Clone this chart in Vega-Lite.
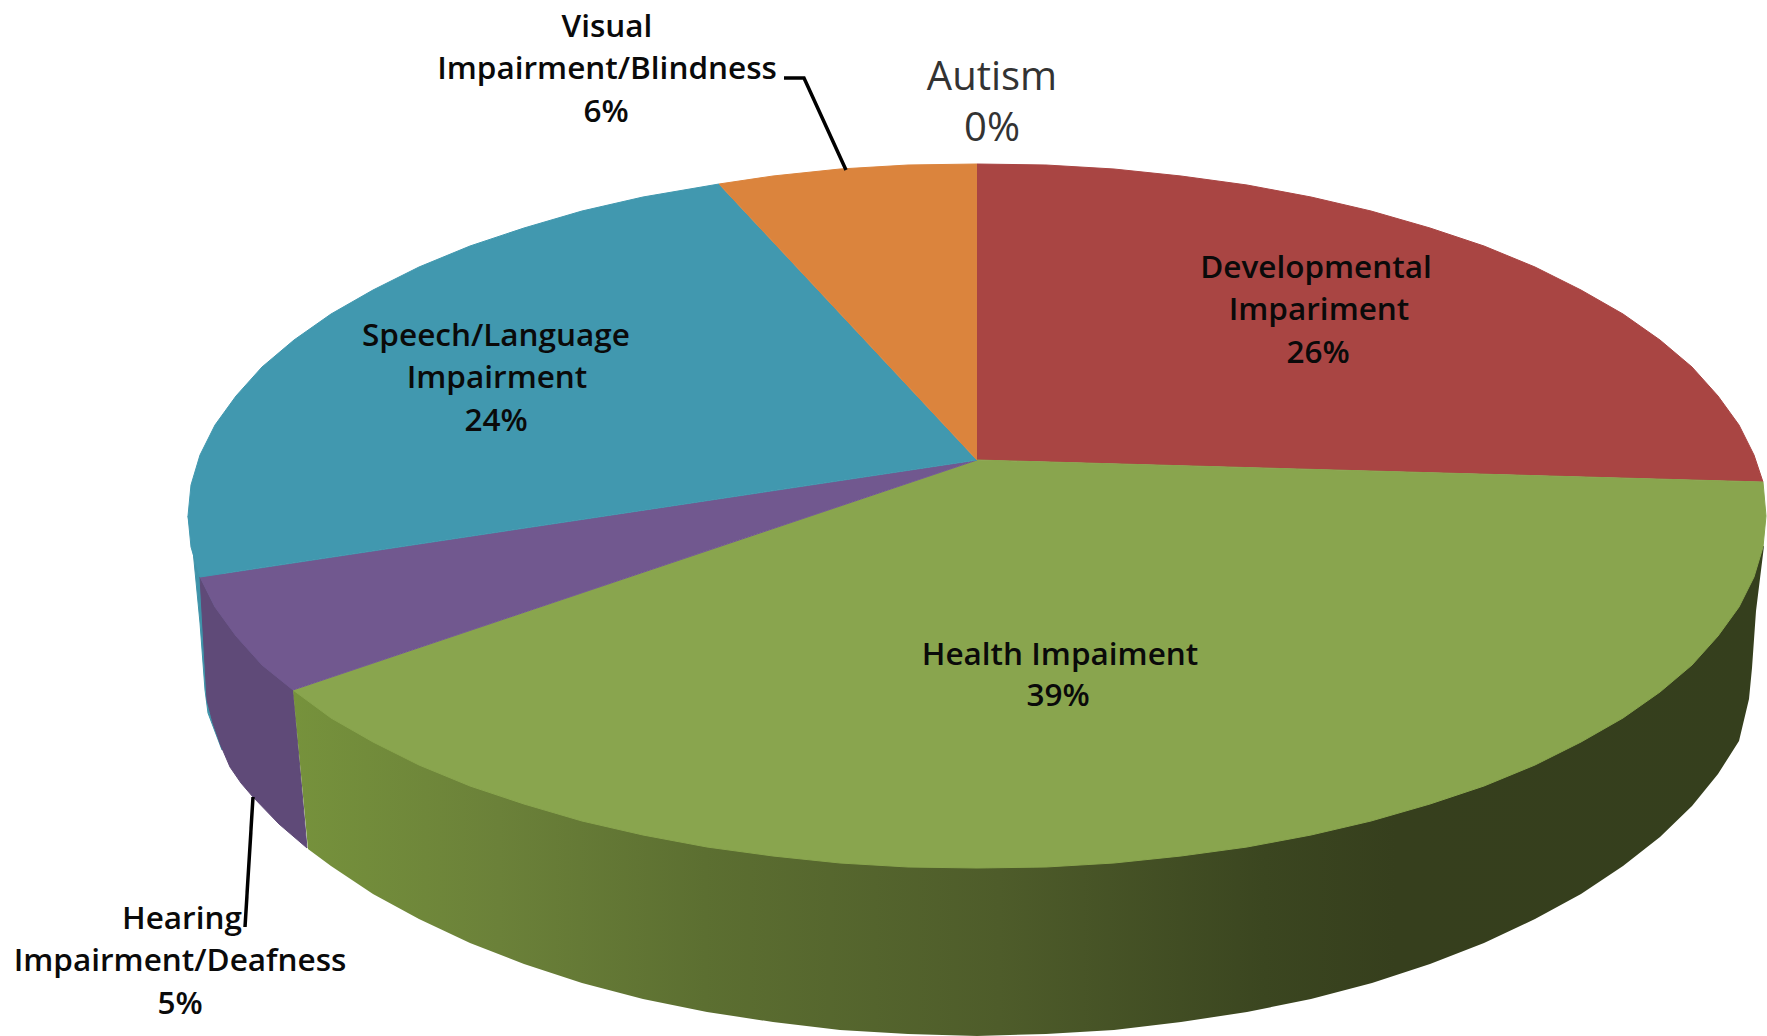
{
"$schema":"https://vega.github.io/schema/vega-lite/v6.json",
"width":1767,"height":1036,"padding":0,"autosize":"none",
"background":"white",
"view":{"stroke":null},
"config":{"axis":{"domain":false,"grid":false,"ticks":false,"labels":false,"title":null}},
"datasets":{
"sides":[
{"part":"Speech side","i":1,"x":188,"y":516},{"part":"Speech side","i":2,"x":192,"y":540},{"part":"Speech side","i":3,"x":200,"y":623},{"part":"Speech side","i":4,"x":205,"y":690},{"part":"Speech side","i":5,"x":208,"y":713},{"part":"Speech side","i":6,"x":222,"y":750},{"part":"Speech side","i":7,"x":293,"y":690},
{"part":"Hearing side","i":1,"x":200,"y":577},{"part":"Hearing side","i":2,"x":207,"y":700},{"part":"Hearing side","i":3,"x":213,"y":723},{"part":"Hearing side","i":4,"x":221,"y":746},{"part":"Hearing side","i":5,"x":230,"y":767},{"part":"Hearing side","i":6,"x":241,"y":783},{"part":"Hearing side","i":7,"x":253,"y":797},{"part":"Hearing side","i":8,"x":279,"y":824},{"part":"Hearing side","i":9,"x":307,"y":848},{"part":"Hearing side","i":10,"x":293,"y":690},{"part":"Hearing side","i":11,"x":262,"y":665},{"part":"Hearing side","i":12,"x":236,"y":636},{"part":"Hearing side","i":13,"x":215,"y":607}
],
"greenSide":[
{"i":1,"x":293,"y":690},{"i":2,"x":308,"y":849},{"i":3,"x":331,"y":866},{"i":4,"x":373,"y":894},{"i":5,"x":419,"y":919},{"i":6,"x":470,"y":943},{"i":7,"x":524,"y":964},{"i":8,"x":582,"y":983},{"i":9,"x":643,"y":999},{"i":10,"x":707,"y":1012},{"i":11,"x":773,"y":1022},{"i":12,"x":840,"y":1030},{"i":13,"x":908,"y":1034},{"i":14,"x":977,"y":1036},{"i":15,"x":1046,"y":1034},{"i":16,"x":1114,"y":1030},{"i":17,"x":1181,"y":1022},{"i":18,"x":1247,"y":1012},{"i":19,"x":1311,"y":999},{"i":20,"x":1372,"y":983},{"i":21,"x":1430,"y":964},{"i":22,"x":1484,"y":943},{"i":23,"x":1535,"y":919},{"i":24,"x":1581,"y":894},{"i":25,"x":1623,"y":866},{"i":26,"x":1660,"y":837},{"i":27,"x":1692,"y":806},{"i":28,"x":1718,"y":774},{"i":29,"x":1739,"y":741},{"i":30,"x":1749,"y":699},{"i":31,"x":1752,"y":668},{"i":32,"x":1756,"y":611},{"i":33,"x":1764,"y":546}
],
"faces":[
{"part":"Developmental","i":0,"x":977,"y":460},{"part":"Developmental","i":1,"x":977,"y":164},{"part":"Developmental","i":2,"x":1046,"y":165},{"part":"Developmental","i":3,"x":1114,"y":169},{"part":"Developmental","i":4,"x":1181,"y":176},{"part":"Developmental","i":5,"x":1247,"y":185},{"part":"Developmental","i":6,"x":1311,"y":197},{"part":"Developmental","i":7,"x":1371,"y":211},{"part":"Developmental","i":8,"x":1430,"y":228},{"part":"Developmental","i":9,"x":1484,"y":246},{"part":"Developmental","i":10,"x":1535,"y":267},{"part":"Developmental","i":11,"x":1581,"y":290},{"part":"Developmental","i":12,"x":1623,"y":314},{"part":"Developmental","i":13,"x":1660,"y":340},{"part":"Developmental","i":14,"x":1692,"y":367},{"part":"Developmental","i":15,"x":1718,"y":396},{"part":"Developmental","i":16,"x":1739,"y":425},{"part":"Developmental","i":17,"x":1754,"y":455},{"part":"Developmental","i":18,"x":1763,"y":482},
{"part":"Health","i":0,"x":977,"y":460},{"part":"Health","i":1,"x":1763,"y":482},{"part":"Health","i":2,"x":1766,"y":516},{"part":"Health","i":3,"x":1763,"y":547},{"part":"Health","i":4,"x":1754,"y":577},{"part":"Health","i":5,"x":1739,"y":607},{"part":"Health","i":6,"x":1718,"y":636},{"part":"Health","i":7,"x":1692,"y":665},{"part":"Health","i":8,"x":1660,"y":692},{"part":"Health","i":9,"x":1623,"y":718},{"part":"Health","i":10,"x":1581,"y":742},{"part":"Health","i":11,"x":1535,"y":765},{"part":"Health","i":12,"x":1484,"y":786},{"part":"Health","i":13,"x":1430,"y":804},{"part":"Health","i":14,"x":1371,"y":821},{"part":"Health","i":15,"x":1311,"y":835},{"part":"Health","i":16,"x":1247,"y":847},{"part":"Health","i":17,"x":1181,"y":856},{"part":"Health","i":18,"x":1114,"y":863},{"part":"Health","i":19,"x":1046,"y":867},{"part":"Health","i":20,"x":977,"y":868},{"part":"Health","i":21,"x":908,"y":867},{"part":"Health","i":22,"x":840,"y":863},{"part":"Health","i":23,"x":773,"y":856},{"part":"Health","i":24,"x":707,"y":847},{"part":"Health","i":25,"x":643,"y":835},{"part":"Health","i":26,"x":582,"y":821},{"part":"Health","i":27,"x":524,"y":804},{"part":"Health","i":28,"x":470,"y":786},{"part":"Health","i":29,"x":419,"y":765},{"part":"Health","i":30,"x":373,"y":742},{"part":"Health","i":31,"x":331,"y":718},{"part":"Health","i":32,"x":293,"y":690},
{"part":"Hearing","i":0,"x":977,"y":460},{"part":"Hearing","i":1,"x":293,"y":690},{"part":"Hearing","i":2,"x":262,"y":665},{"part":"Hearing","i":3,"x":236,"y":636},{"part":"Hearing","i":4,"x":215,"y":607},{"part":"Hearing","i":5,"x":200,"y":577},
{"part":"Speech","i":0,"x":977,"y":460},{"part":"Speech","i":1,"x":200,"y":577},{"part":"Speech","i":2,"x":191,"y":547},{"part":"Speech","i":3,"x":188,"y":516},{"part":"Speech","i":4,"x":191,"y":485},{"part":"Speech","i":5,"x":200,"y":455},{"part":"Speech","i":6,"x":215,"y":425},{"part":"Speech","i":7,"x":236,"y":396},{"part":"Speech","i":8,"x":262,"y":367},{"part":"Speech","i":9,"x":294,"y":340},{"part":"Speech","i":10,"x":331,"y":314},{"part":"Speech","i":11,"x":373,"y":290},{"part":"Speech","i":12,"x":419,"y":267},{"part":"Speech","i":13,"x":470,"y":246},{"part":"Speech","i":14,"x":524,"y":228},{"part":"Speech","i":15,"x":582,"y":211},{"part":"Speech","i":16,"x":643,"y":197},{"part":"Speech","i":17,"x":719,"y":184},
{"part":"Visual","i":0,"x":977,"y":460},{"part":"Visual","i":1,"x":719,"y":184},{"part":"Visual","i":2,"x":773,"y":176},{"part":"Visual","i":3,"x":840,"y":169},{"part":"Visual","i":4,"x":908,"y":165},{"part":"Visual","i":5,"x":977,"y":164}
],
"leaders":[
{"part":"Visual","i":1,"x":784,"y":78},{"part":"Visual","i":2,"x":804,"y":78},{"part":"Visual","i":3,"x":846,"y":170},
{"part":"Hearing","i":1,"x":253,"y":797},{"part":"Hearing","i":2,"x":245,"y":927}
],
"labels":[
{"t":"Visual","x":607,"y":26},{"t":"Impairment/Blindness","x":607,"y":68},{"t":"6%","x":606,"y":111},
{"t":"Developmental","x":1316,"y":267},{"t":"Impariment","x":1319,"y":309},{"t":"26%","x":1318,"y":352},
{"t":"Speech/Language","x":496,"y":335},{"t":"Impairment","x":497,"y":377},{"t":"24%","x":496,"y":420},
{"t":"Health Impaiment","x":1060,"y":654},{"t":"39%","x":1058,"y":695},
{"t":"Hearing","x":182,"y":918},{"t":"Impairment/Deafness","x":180,"y":960},{"t":"5%","x":180,"y":1003}
],
"autism":[{"t":"Autism","x":992,"y":76},{"t":"0%","x":992,"y":127}]
},
"encoding":{
"x":{"field":"x","type":"quantitative","scale":{"domain":[0,1767],"nice":false,"zero":false},"axis":null},
"y":{"field":"y","type":"quantitative","scale":{"domain":[1036,0],"nice":false,"zero":false},"axis":null}
},
"resolve":{"scale":{"fill":"independent","stroke":"independent"}},
"layer":[
{"data":{"name":"sides"},"mark":{"type":"line","filled":true,"strokeWidth":1},
 "encoding":{"order":{"field":"i","type":"quantitative"},"detail":{"field":"part"},
 "fill":{"field":"part","scale":{"domain":["Speech side","Hearing side"],"range":["#3f93a9","#5f4a78"]},"legend":null},
 "stroke":{"field":"part","scale":{"domain":["Speech side","Hearing side"],"range":["#3f93a9","#5f4a78"]},"legend":null}}},
{"data":{"name":"greenSide"},"mark":{"type":"line","strokeWidth":0,"fill":{"gradient":"linear","x1":0,"x2":1,"y1":0,"y2":0,"stops":[{"offset":0,"color":"#76923c"},{"offset":0.14,"color":"#6b8139"},{"offset":0.28,"color":"#5c6f31"},{"offset":0.48,"color":"#4e5c2a"},{"offset":0.66,"color":"#3b4620"},{"offset":0.75,"color":"#363f1d"},{"offset":1,"color":"#353f1d"}]}},
 "encoding":{"order":{"field":"i","type":"quantitative"}}},
{"data":{"name":"faces"},"mark":{"type":"line","filled":true,"strokeWidth":1},
 "encoding":{"order":{"field":"i","type":"quantitative"},"detail":{"field":"part"},
 "fill":{"field":"part","scale":{"domain":["Developmental","Health","Hearing","Speech","Visual"],"range":["#a94543","#89a54e","#71588f","#4198af","#db843d"]},"legend":null},
 "stroke":{"field":"part","scale":{"domain":["Developmental","Health","Hearing","Speech","Visual"],"range":["#a94543","#89a54e","#71588f","#4198af","#db843d"]},"legend":null}}},
{"data":{"name":"leaders"},"mark":{"type":"line","color":"#000000","strokeWidth":3.5},
 "encoding":{"order":{"field":"i","type":"quantitative"},"detail":{"field":"part"}}},
{"data":{"name":"labels"},"mark":{"type":"text","font":"Open Sans","fontWeight":600,"fontSize":31.5,"dy":2,"color":"#0a0a0a","align":"center","baseline":"middle"},
 "encoding":{"text":{"field":"t"}}},
{"data":{"name":"autism"},"mark":{"type":"text","font":"Open Sans","fontSize":40,"dy":2,"color":"#333333","align":"center","baseline":"middle"},
 "encoding":{"text":{"field":"t"}}}
]
}
